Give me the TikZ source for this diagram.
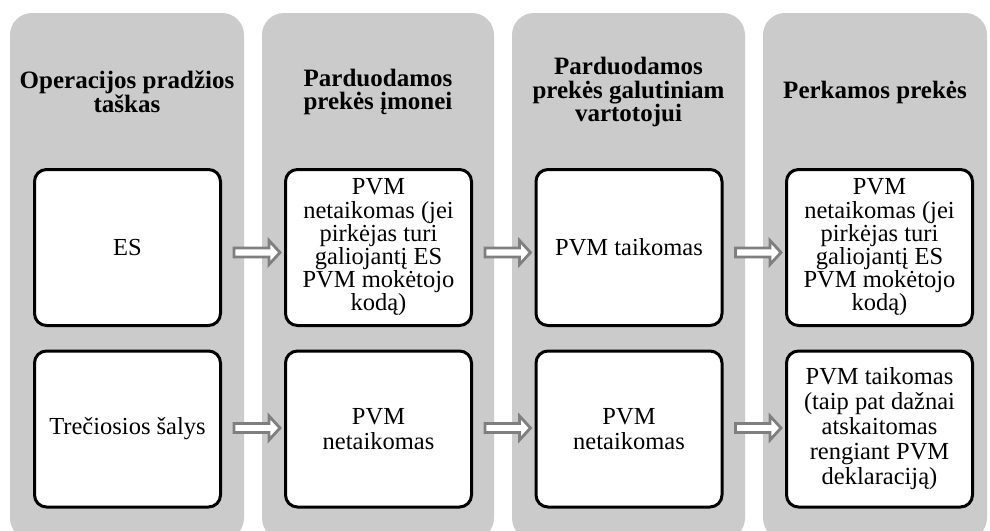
\documentclass[tikz,border=0pt]{standalone}
\usepackage{fontspec}
\setmainfont{Liberation Serif}
\usetikzlibrary{calc}
\definecolor{colgray}{HTML}{CBCBCB}
\definecolor{arrgray}{HTML}{7F7F7F}
\newcommand\harr[3]{\path[harrow] let \p1=($(#1.east)+(0,#3)$), \p2=(#2.west) in
 (\x1+12pt,\y1+4.5pt) -- (\x2-15pt,\y1+4.5pt) -- (\x2-15pt,\y1+12pt) -- (\x2-4pt,\y1) -- (\x2-15pt,\y1-12pt) -- (\x2-15pt,\y1-4.5pt) -- (\x1+12pt,\y1-4.5pt) -- cycle;}
\begin{document}
\begin{tikzpicture}[x=1pt,y=-1pt,
 col/.style={fill=colgray, rounded corners=22pt},
 box/.style={draw=black, line width=3pt, fill=white, rounded corners=12pt, minimum width=186pt, minimum height=156pt, inner sep=0pt, align=center, font=\fontsize{24.5}{25}\selectfont},
 dense/.style={font=\fontsize{24.5}{23.2}\selectfont},
 head/.style={align=center, inner sep=0pt, font=\fontsize{25}{23.5}\selectfont\bfseries},
 harrow/.style={draw=arrgray, line width=2.8pt, fill=white, line join=miter}]
\useasboundingbox (0,0) rectangle (990,530);
\clip (0,0) rectangle (990,530);
% columns
\fill[col] (10,13) rectangle (244,540);
\fill[col] (262,13) rectangle (494,540);
\fill[col] (512,13) rectangle (745,540);
\fill[col] (763,13) rectangle (987,540);
% headers
\node[head] (h1) at (127,92) {Operacijos pradžios\\taškas};
\node[head] (h2) at (378,92) {Parduodamos\\prekės įmonei};
\node[head] (h3) at (628.5,92) {Parduodamos\\prekės galutiniam\\vartotojui};
\node[head] (h4) at (875,92) {Perkamos prekės};
% boxes
\node[box] (a1) at (127.5,247.5) {ES};
\node[box] (a2) at (127.5,429) {Trečiosios šalys};
\node[box,dense] (b1) at (378.5,247.5) {PVM\\netaikomas (jei\\pirkėjas turi\\galiojantį ES\\PVM mokėtojo\\kodą)};
\node[box] (b2) at (378.5,429) {PVM\\netaikomas};
\node[box] (c1) at (629,247.5) {PVM taikomas};
\node[box] (c2) at (629,429) {PVM\\netaikomas};
\node[box,dense] (d1) at (879.5,247.5) {PVM\\netaikomas (jei\\pirkėjas turi\\galiojantį ES\\PVM mokėtojo\\kodą)};
\node[box] (d2) at (879.5,429) {PVM taikomas\\(taip pat dažnai\\atskaitomas\\rengiant PVM\\deklaraciją)};
% arrows
\harr{a1}{b1}{5}
\harr{b1}{c1}{5}
\harr{c1}{d1}{5}
\harr{a2}{b2}{-1}
\harr{b2}{c2}{-1}
\harr{c2}{d2}{-1}
\end{tikzpicture}
\end{document}
